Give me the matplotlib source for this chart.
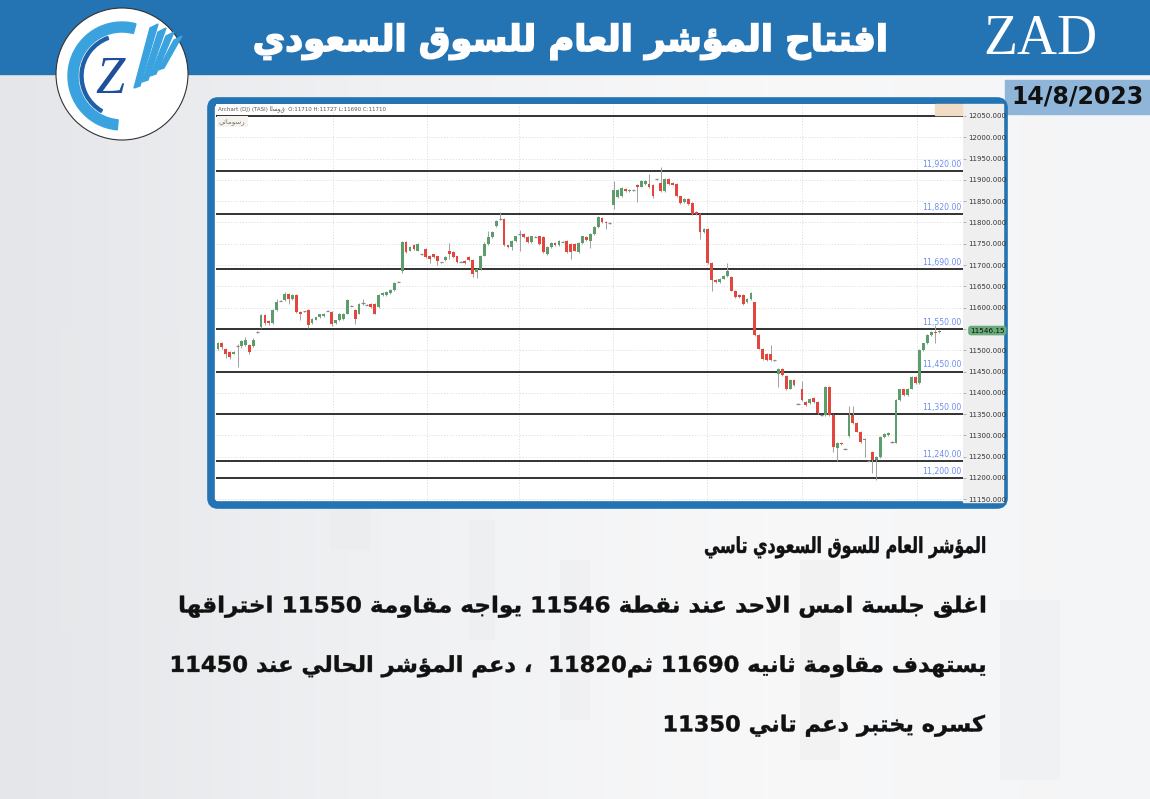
import re
import matplotlib
matplotlib.use("Agg")
import matplotlib.pyplot as plt
from matplotlib.patches import Rectangle, FancyBboxPatch, Circle, Wedge, Polygon, PathPatch
from matplotlib.textpath import TextPath
from matplotlib.font_manager import FontProperties
from matplotlib.transforms import Affine2D
import numpy as np

# ---------------- data ----------------
opens = [11504, 11517, 11504, 11496, 11492, 11512, 11510, 11512, 11512, 11510,
         11543, 11555, 11582, 11569, 11563, 11595, 11617, 11617, 11633, 11621,
         11629, 11590, 11592, 11594, 11563, 11572, 11577, 11580, 11594, 11590,
         11564, 11570, 11574, 11586, 11605, 11594, 11586, 11613, 11608, 11608,
         11608, 11601, 11629, 11629, 11634, 11642, 11661, 11685, 11753, 11734,
         11746, 11734, 11726, 11738, 11722, 11725, 11720, 11707, 11711, 11734,
         11730, 11720, 11709, 11709, 11718, 11712, 11683, 11691, 11722, 11750,
         11765, 11792, 11808, 11808, 11746, 11742, 11757, 11773, 11773, 11765,
         11753, 11767, 11767, 11765, 11726, 11742, 11751, 11746, 11756, 11756,
         11750, 11750, 11730, 11751, 11765, 11757, 11773, 11789, 11811, 11802,
         11799, 11840, 11859, 11861, 11879, 11873, 11876, 11889, 11884, 11890,
         11890, 11889, 11902, 11892, 11873, 11902, 11892, 11890, 11861, 11848,
         11855, 11845, 11824, 11820, 11777, 11785, 11705, 11664, 11660, 11668,
         11675, 11673, 11640, 11629, 11629, 11613, 11621, 11612, 11535, 11504,
         11492, 11492, 11477, 11445, 11457, 11439, 11410, 11430, 11375, 11408,
         11379, 11375, 11387, 11379, 11348, 11348, 11413, 11348, 11270, 11283,
         11270, 11299, 11348, 11330, 11309, 11289, 11242, 11262, 11242, 11250,
         11297, 11301, 11285, 11283, 11383, 11408, 11395, 11410, 11438, 11422,
         11501, 11516, 11535, 11543, 11543]
closes = [11517, 11508, 11491, 11485, 11496, 11511, 11521, 11524, 11496, 11525,
          11542, 11582, 11563, 11563, 11595, 11613, 11616, 11633, 11621, 11629,
          11590, 11586, 11591, 11559, 11574, 11577, 11584, 11586, 11593, 11562,
          11570, 11586, 11586, 11617, 11604, 11574, 11609, 11612, 11607, 11601,
          11586, 11629, 11634, 11636, 11642, 11657, 11660, 11753, 11730, 11742,
          11738, 11750, 11725, 11718, 11714, 11718, 11710, 11706, 11718, 11726,
          11718, 11707, 11708, 11704, 11711, 11678, 11691, 11722, 11750, 11765,
          11777, 11804, 11807, 11746, 11742, 11757, 11767, 11772, 11765, 11753,
          11767, 11766, 11750, 11730, 11742, 11751, 11746, 11757, 11755, 11730,
          11730, 11734, 11751, 11767, 11759, 11773, 11789, 11812, 11801, 11799,
          11798, 11876, 11876, 11881, 11873, 11876, 11875, 11884, 11897, 11897,
          11883, 11863, 11901, 11873, 11902, 11890, 11889, 11861, 11845, 11855,
          11844, 11819, 11819, 11777, 11785, 11705, 11664, 11660, 11668, 11675,
          11687, 11640, 11625, 11625, 11609, 11621, 11634, 11535, 11504, 11480,
          11477, 11477, 11476, 11457, 11441, 11408, 11430, 11418, 11374, 11383,
          11371, 11385, 11379, 11352, 11347, 11413, 11348, 11272, 11283, 11280,
          11269, 11348, 11328, 11309, 11285, 11291, 11241, 11242, 11250, 11297,
          11303, 11306, 11284, 11383, 11408, 11395, 11410, 11438, 11422, 11501,
          11516, 11535, 11543, 11541, 11546.15]
highs = [11520, 11520, 11506, 11498, 11498, 11514, 11525, 11530, 11514, 11528,
         11545, 11585, 11584, 11571, 11597, 11620, 11618, 11636, 11635, 11631,
         11631, 11592, 11593, 11596, 11576, 11579, 11586, 11588, 11595, 11592,
         11572, 11588, 11588, 11620, 11606, 11596, 11611, 11621, 11609, 11610,
         11610, 11631, 11636, 11638, 11644, 11659, 11662, 11756, 11756, 11744,
         11749, 11752, 11727, 11740, 11724, 11727, 11722, 11708, 11720, 11751,
         11732, 11722, 11710, 11711, 11720, 11714, 11693, 11724, 11755, 11780,
         11779, 11806, 11824, 11810, 11748, 11759, 11769, 11782, 11775, 11767,
         11769, 11768, 11769, 11767, 11744, 11753, 11753, 11759, 11757, 11758,
         11752, 11752, 11753, 11769, 11767, 11775, 11791, 11814, 11813, 11804,
         11800, 11898, 11878, 11883, 11881, 11878, 11877, 11891, 11899, 11899,
         11914, 11891, 11903, 11931, 11904, 11904, 11894, 11892, 11863, 11857,
         11857, 11847, 11826, 11822, 11787, 11787, 11707, 11666, 11670, 11677,
         11704, 11675, 11642, 11631, 11631, 11623, 11636, 11614, 11537, 11506,
         11494, 11512, 11478, 11459, 11459, 11441, 11432, 11432, 11376, 11428,
         11381, 11387, 11389, 11381, 11349, 11416, 11415, 11350, 11285, 11285,
         11271, 11369, 11369, 11332, 11311, 11293, 11243, 11264, 11252, 11299,
         11305, 11308, 11286, 11385, 11410, 11410, 11412, 11440, 11440, 11503,
         11518, 11537, 11545, 11560, 11548]
lows = [11500, 11504, 11481, 11480, 11490, 11461, 11505, 11510, 11490, 11508,
        11540, 11552, 11560, 11560, 11561, 11593, 11615, 11615, 11608, 11619,
        11588, 11570, 11590, 11553, 11561, 11570, 11575, 11578, 11592, 11557,
        11562, 11568, 11572, 11584, 11603, 11562, 11584, 11605, 11606, 11599,
        11584, 11599, 11627, 11627, 11632, 11640, 11659, 11681, 11728, 11732,
        11736, 11732, 11724, 11716, 11705, 11716, 11700, 11705, 11709, 11714,
        11716, 11705, 11707, 11702, 11709, 11672, 11670, 11689, 11720, 11748,
        11763, 11790, 11805, 11744, 11740, 11735, 11755, 11734, 11763, 11751,
        11751, 11765, 11748, 11728, 11724, 11740, 11744, 11744, 11754, 11728,
        11714, 11732, 11728, 11749, 11757, 11740, 11771, 11787, 11799, 11785,
        11797, 11832, 11857, 11859, 11871, 11871, 11874, 11848, 11882, 11888,
        11881, 11858, 11900, 11871, 11871, 11888, 11887, 11859, 11843, 11846,
        11842, 11817, 11817, 11762, 11775, 11703, 11640, 11658, 11658, 11666,
        11673, 11638, 11623, 11623, 11607, 11611, 11619, 11533, 11502, 11478,
        11475, 11475, 11475, 11414, 11439, 11406, 11408, 11416, 11373, 11381,
        11369, 11373, 11377, 11350, 11346, 11346, 11346, 11262, 11239, 11278,
        11268, 11297, 11326, 11307, 11283, 11250, 11240, 11211, 11196, 11248,
        11295, 11299, 11283, 11281, 11381, 11393, 11393, 11408, 11420, 11420,
        11499, 11514, 11533, 11518, 11541]

levels = [12050, 11920, 11820, 11690, 11550, 11450, 11350, 11240, 11200]
level_labels = ["11,920.00", "11,820.00", "11,690.00", "11,550.00",
                "11,450.00", "11,350.00", "11,240.00", "11,200.00"]
price_ticks = list(range(11150, 12051, 50))
price_tick_labels = [f"{v:.3f}" for v in price_ticks]

title = "افتتاح المؤشر العام للسوق السعودي"
brand = "ZAD"
date_label = "14/8/2023"
body_lines = [
    "المؤشر العام للسوق السعودي تاسي",
    "اغلق جلسة امس الاحد عند نقطة 11546 يواجه مقاومة 11550 اختراقها",
    "يستهدف مقاومة ثانيه 11690 ثم11820  ، دعم المؤشر الحالي عند 11450",
    "كسره يختبر دعم تاني 11350",
]

# ---------------- Arabic shaping (presentation forms + visual order) ----------------
FORMS = {
    'ء': ('\uFE80', None, None, None),
    'آ': ('\uFE81', '\uFE82', None, None),
    'أ': ('\uFE83', '\uFE84', None, None),
    'ؤ': ('\uFE85', '\uFE86', None, None),
    'إ': ('\uFE87', '\uFE88', None, None),
    'ئ': ('\uFE89', '\uFE8A', '\uFE8B', '\uFE8C'),
    'ا': ('\uFE8D', '\uFE8E', None, None),
    'ب': ('\uFE8F', '\uFE90', '\uFE91', '\uFE92'),
    'ة': ('\uFE93', '\uFE94', None, None),
    'ت': ('\uFE95', '\uFE96', '\uFE97', '\uFE98'),
    'ث': ('\uFE99', '\uFE9A', '\uFE9B', '\uFE9C'),
    'ج': ('\uFE9D', '\uFE9E', '\uFE9F', '\uFEA0'),
    'ح': ('\uFEA1', '\uFEA2', '\uFEA3', '\uFEA4'),
    'خ': ('\uFEA5', '\uFEA6', '\uFEA7', '\uFEA8'),
    'د': ('\uFEA9', '\uFEAA', None, None),
    'ذ': ('\uFEAB', '\uFEAC', None, None),
    'ر': ('\uFEAD', '\uFEAE', None, None),
    'ز': ('\uFEAF', '\uFEB0', None, None),
    'س': ('\uFEB1', '\uFEB2', '\uFEB3', '\uFEB4'),
    'ش': ('\uFEB5', '\uFEB6', '\uFEB7', '\uFEB8'),
    'ص': ('\uFEB9', '\uFEBA', '\uFEBB', '\uFEBC'),
    'ض': ('\uFEBD', '\uFEBE', '\uFEBF', '\uFEC0'),
    'ط': ('\uFEC1', '\uFEC2', '\uFEC3', '\uFEC4'),
    'ظ': ('\uFEC5', '\uFEC6', '\uFEC7', '\uFEC8'),
    'ع': ('\uFEC9', '\uFECA', '\uFECB', '\uFECC'),
    'غ': ('\uFECD', '\uFECE', '\uFECF', '\uFED0'),
    'ف': ('\uFED1', '\uFED2', '\uFED3', '\uFED4'),
    'ق': ('\uFED5', '\uFED6', '\uFED7', '\uFED8'),
    'ك': ('\uFED9', '\uFEDA', '\uFEDB', '\uFEDC'),
    'ل': ('\uFEDD', '\uFEDE', '\uFEDF', '\uFEE0'),
    'م': ('\uFEE1', '\uFEE2', '\uFEE3', '\uFEE4'),
    'ن': ('\uFEE5', '\uFEE6', '\uFEE7', '\uFEE8'),
    'ه': ('\uFEE9', '\uFEEA', '\uFEEB', '\uFEEC'),
    'و': ('\uFEED', '\uFEEE', None, None),
    'ى': ('\uFEEF', '\uFEF0', None, None),
    'ي': ('\uFEF1', '\uFEF2', '\uFEF3', '\uFEF4'),
}
LAM_ALEF = {'آ': ('\uFEF5', '\uFEF6'), 'أ': ('\uFEF7', '\uFEF8'),
            'إ': ('\uFEF9', '\uFEFA'), 'ا': ('\uFEFB', '\uFEFC')}


def _dual(c):
    return c in FORMS and FORMS[c][2] is not None


def _takes_final(c):
    return c in FORMS and FORMS[c][1] is not None


def shape(text):
    out, i, n = [], 0, len(text)
    while i < n:
        c = text[i]
        if c not in FORMS:
            out.append(c)
            i += 1
            continue
        prev = text[i - 1] if i > 0 else ''
        if c == 'ل' and i + 1 < n and text[i + 1] in LAM_ALEF:
            out.append(LAM_ALEF[text[i + 1]][1 if _dual(prev) else 0])
            i += 2
            continue
        nxt = text[i + 1] if i + 1 < n else ''
        cp = _dual(prev) and _takes_final(c)
        cn = _dual(c) and _takes_final(nxt)
        iso, fin, ini, med = FORMS[c]
        out.append(med if (cp and cn) else fin if cp else ini if cn else iso)
        i += 1
    return ''.join(out)


def rtl(text):
    tokens = re.findall(r'[0-9A-Za-z./]+|.', shape(text))
    return ''.join(reversed(tokens))


BOLD = FontProperties(family='DejaVu Sans', weight='bold')


def fitted_text(ax, s, x_left, y_mid, width, px, color, stroke=0.0, zorder=3):
    """Draw text as an outline path whose ink spans `width` pixels, `px` pixel font size."""
    tp = TextPath((0, 0), s, size=100, prop=BOLD)
    ext = tp.get_extents()
    sx = width / ext.width
    sy = px / 100.0
    tr = Affine2D().translate(-ext.x0, -36).scale(sx, -sy).translate(x_left, y_mid)
    ax.add_patch(PathPatch(tr.transform_path(tp), facecolor=color, edgecolor=color,
                           lw=stroke, zorder=zorder))


# ---------------- figure ----------------
W, H = 1150, 799
fig = plt.figure(figsize=(W / 100, H / 100), dpi=100)
bg = fig.add_axes([0, 0, 1, 1])
bg.set_xlim(0, W)
bg.set_ylim(H, 0)
bg.axis('off')

# pale backdrop
grad = np.linspace(0.0, 1.0, 256)[None, :]
cmap = matplotlib.colors.LinearSegmentedColormap.from_list(
    'bgfade', ['#e4e6e9', '#f0f1f3', '#f8f8f9', '#f4f5f6'])
bg.imshow(grad, extent=[0, W, H, 0], aspect='auto', cmap=cmap, zorder=0)
for x0, w0, y0, h0 in [(60, 120, 330, 300), (330, 40, 420, 130), (470, 25, 520, 120),
                       (560, 30, 560, 160), (800, 40, 560, 200), (1000, 60, 600, 180)]:
    bg.add_patch(Rectangle((x0, y0), w0, h0, color='#e9eaec', alpha=0.35, lw=0, zorder=0.5))

BLUE = '#2473b3'
# header banner
bg.add_patch(Rectangle((0, 0), W, 74, color=BLUE, zorder=1))
fitted_text(bg, rtl(title), 255, 38, 630, 36, 'white', stroke=1.2, zorder=3)
bg.text(1040, 40, brand, color='white', fontsize=40, family='Liberation Serif',
        ha='center', va='center', zorder=3)

# round emblem
bg.add_patch(Circle((122, 74), 66, facecolor='white', edgecolor='#333333', lw=0.8, zorder=4))
bg.add_patch(Wedge((122, 76), 54, 95, 285, width=10, color='#3aa3df', zorder=5))
bg.add_patch(Wedge((122, 76), 42, 120, 250, width=3, color='#1f5fa8', zorder=5))
bg.text(110, 80, 'Z', color='#1f4f9c', fontsize=38, family='Liberation Serif',
        style='italic', ha='center', va='center', zorder=6)
for k in range(4):
    bg.add_patch(Polygon([(150 + 8 * k, 28 + 4 * k), (158 + 8 * k, 24 + 4 * k),
                          (140 + 8 * k, 86 - 6 * k), (134 + 8 * k, 88 - 6 * k)],
                         color='#3aa3df', zorder=6))

# date badge
bg.add_patch(Rectangle((1005, 80), 145, 34, color='#8fb5d9', zorder=2))
bg.text(1077, 97, date_label, color='#111111', fontsize=17, fontweight='bold',
        family='DejaVu Sans', ha='center', va='center', zorder=3)

# chart frame and price strip
bg.add_patch(FancyBboxPatch((211, 101), 793, 404, boxstyle='round,pad=0,rounding_size=7',
                            facecolor='white', edgecolor=BLUE, lw=5.5, zorder=2))
bg.add_patch(Rectangle((963, 104), 40, 398, color='#efefef', zorder=2.5))

# body text, right-aligned at x = 985
line_left = [705, 180, 172, 665]
for k, line in enumerate(body_lines):
    fitted_text(bg, rtl(line), line_left[k], 545 + k * 59.5, 985 - line_left[k], 22,
                '#111111', stroke=0.3, zorder=3)

# ---------------- candlestick chart ----------------
ax = fig.add_axes([216 / W, 1 - 501 / H, 747 / W, 397 / H], zorder=5)
ax.set_facecolor('white')
for s in ax.spines.values():
    s.set_visible(False)
ax.set_xlim(-0.5, 190.1)
ax.set_ylim(11146, 12078)

idx = np.arange(len(closes))
o = np.array(opens, dtype=float)
c = np.array(closes, dtype=float)
hi = np.array(highs, dtype=float)
lo = np.array(lows, dtype=float)

# grid
for v in price_ticks:
    ax.axhline(v, color='#dcdcdc', lw=0.6, ls=(0, (1.5, 2)), zorder=0)
for xf in [0.156, 0.282, 0.406, 0.531, 0.657, 0.784, 0.939]:
    ax.axvline(xf * 190.6 - 0.5, color='#dcdcdc', lw=0.6, ls=(0, (1.5, 2)), zorder=0)

# support / resistance lines
for lvl in levels:
    ax.axhline(lvl, color='#222222', lw=1.3, zorder=1)
for lvl, lab in zip(levels[1:], level_labels):
    ax.text(189.8, lvl + 5, lab, color='#6a8ff0', fontsize=5.6, ha='right',
            va='bottom', zorder=4)

up = c > o
down = c < o
flat = ~(up | down) | (np.abs(c - o) < 1.5)
ax.vlines(idx, lo, hi, color='#a0a0a0', lw=0.7, zorder=2)
body_h = np.maximum(np.abs(c - o), 1.2)
body_b = np.minimum(o, c)
ax.bar(idx[up & ~flat], body_h[up & ~flat], bottom=body_b[up & ~flat], width=0.72,
       color='#5b9e6c', zorder=3)
ax.bar(idx[down & ~flat], body_h[down & ~flat], bottom=body_b[down & ~flat], width=0.72,
       color='#e2463c', zorder=3)
ax.hlines(c[flat], idx[flat] - 0.4, idx[flat] + 0.4, color='#8a8a8a', lw=0.9, zorder=3)

# price axis
ax.yaxis.tick_right()
ax.set_yticks(price_ticks)
ax.set_yticklabels(price_tick_labels)
ax.tick_params(axis='y', labelsize=5, colors='#333333', length=2, pad=2, width=0.5)
ax.tick_params(axis='y', color='#999999')
ax.set_xticks([])

# last price tag
ax.annotate(f"{closes[-1]:.2f}", xy=(1.0, closes[-1]), xycoords=('axes fraction', 'data'),
            xytext=(5, 0), textcoords='offset points', fontsize=5.2, color='#111111',
            ha='left', va='center', annotation_clip=False, zorder=10,
            bbox=dict(boxstyle='round,pad=0.25,rounding_size=0.4', fc='#6aab7c', ec='none'))

# chart header strip
ax.text(0.003, 0.997, 'Archart (DJ) (TASI) ﺍﻟﺴﻮﻕ  O:11710 H:11727 L:11690 C:11710',
        transform=ax.transAxes, fontsize=4, color='#555555', ha='left', va='top')
ax.text(0.004, 0.965, rtl('رسوماتي'), transform=ax.transAxes, fontsize=5, color='#777777',
        ha='left', va='top', family='DejaVu Sans',
        bbox=dict(boxstyle='square,pad=0.3', fc='#f6f2ee', ec='none'))
ax.add_patch(Rectangle((0.962, 0.972), 0.036, 0.028, transform=ax.transAxes,
                       color='#f1dcc6', zorder=6, clip_on=False))

fig.savefig('out.png', dpi=100)
